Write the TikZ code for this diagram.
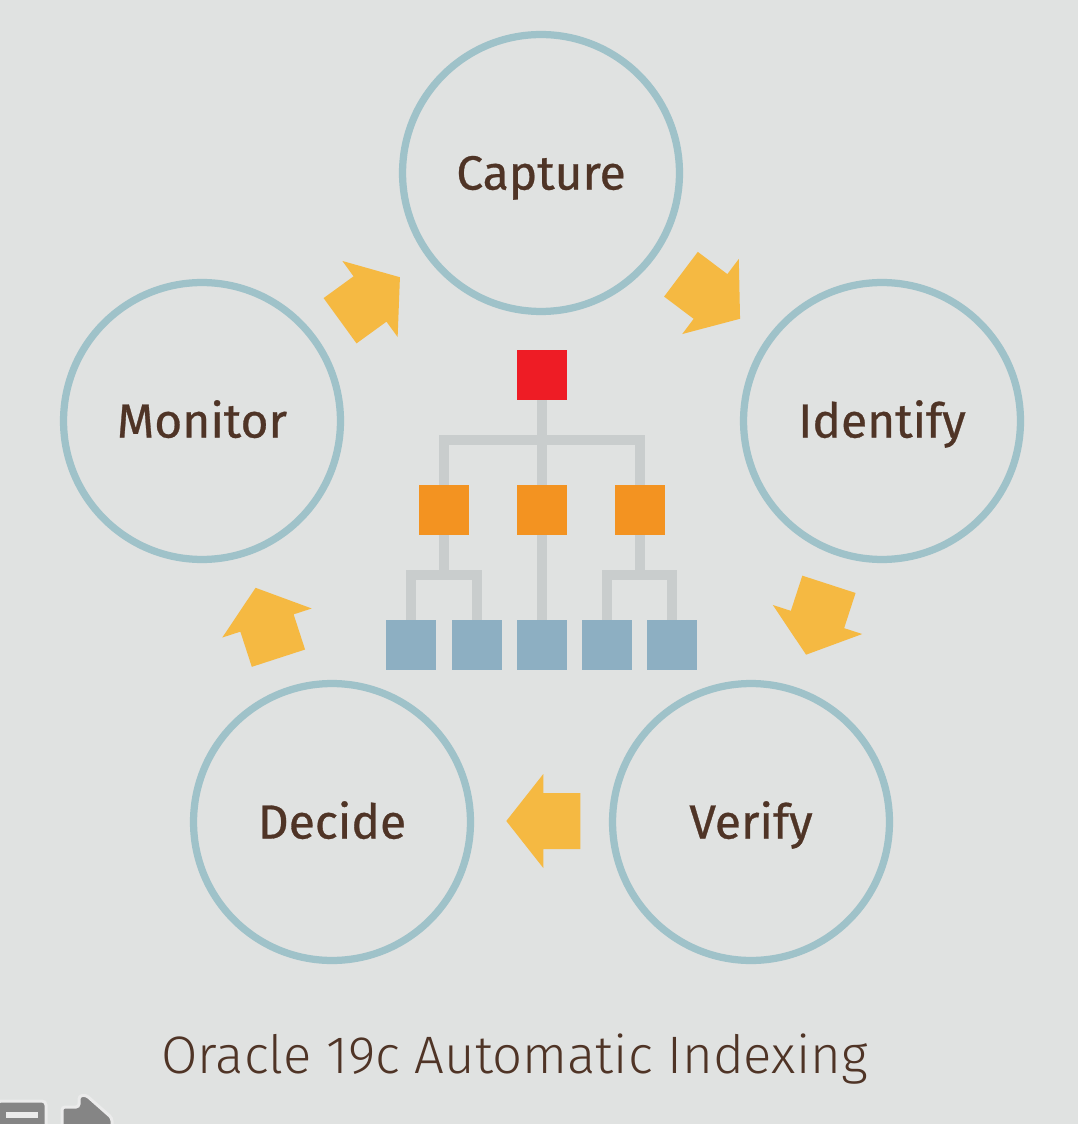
\documentclass[tikz,border=0pt]{standalone}
\usepackage{fontspec}
\setmainfont{Fira Sans}
\newfontfamily\thinfont{Fira Sans Light}
\newfontfamily\stagefont{Fira Sans}[FakeBold=0.6]
\usetikzlibrary{positioning}
\definecolor{canvas}{HTML}{E0E2E1}
\definecolor{ring}{HTML}{9FC2C9}
\definecolor{ink}{HTML}{4F3426}
\definecolor{flowc}{HTML}{F5B942}
\definecolor{rootc}{HTML}{EE1C25}
\definecolor{midc}{HTML}{F39321}
\definecolor{leafc}{HTML}{8DAFC2}
\definecolor{linkc}{HTML}{C9CDCD}
\definecolor{iconc}{HTML}{858585}
\tikzset{
	stage/.style={circle,draw=ring,line width=0.145cm,minimum size=5.54cm,inner sep=0pt,
		text=ink,font=\stagefont\fontsize{27.3}{32}\selectfont,text height=0.663cm,text depth=0pt},
	sq/.style={rectangle,minimum size=1cm,inner sep=0pt},
	link/.style={draw=linkc,line width=0.2cm,line join=miter},
	flow/.pic={\fill[flowc] (-37,-28) -- (0,-28) -- (0,-47) -- (37,0) -- (0,47) -- (0,28) -- (-37,28) -- cycle;}
}
\begin{document}
\begin{tikzpicture}[x=0.02cm,y=-0.02cm]
			\fill[canvas] (0,0) rectangle (1078,1124);
			\useasboundingbox (0,0) rectangle (1078,1124);

			\node[stage] (capture) at (541,173) {Capture};
			\node[stage] (identify) at (882,421) {Identify};
			\node[stage] (verify) at (751,822) {Verify};
			\node[stage] (decide) at (332,822) {Decide};
			\node[stage] (monitor) at (202,421) {Monitor};

			\pic[rotate=36] at (370,299) {flow};
			\pic[rotate=-37] at (710.5,296.5) {flow};
			\pic[rotate=-108] at (817.5,619.5) {flow};
			\pic[rotate=180] at (543.3,821) {flow};
			\pic[rotate=108] at (267,623) {flow};

			\coordinate (top) at (542,440);
			\coordinate (subl) at (444,575);
			\coordinate (subr) at (640,575);
			\coordinate (rootpos) at (542,375);
			\coordinate (m1pos) at (444,510);
			\coordinate (m2pos) at (542,510);
			\coordinate (m3pos) at (640,510);
			\coordinate (l1pos) at (411,645);
			\coordinate (l2pos) at (477,645);
			\coordinate (l3pos) at (542,645);
			\coordinate (l4pos) at (607,645);
			\coordinate (l5pos) at (672,645);

			\draw[link] (rootpos) -- (m2pos);
			\draw[link] (m1pos) |- (top) -| (m3pos);
			\draw[link] (m1pos) -- (subl);
			\draw[link] (l1pos) |- (subl) -| (l2pos);
			\draw[link] (m2pos) -- (l3pos);
			\draw[link] (m3pos) -- (subr);
			\draw[link] (l4pos) |- (subr) -| (l5pos);

			\node[sq,fill=rootc] (root) at (rootpos) {};
			\node[sq,fill=midc] (m1) at (m1pos) {};
			\node[sq,fill=midc] (m2) at (m2pos) {};
			\node[sq,fill=midc] (m3) at (m3pos) {};
			\node[sq,fill=leafc] (l1) at (l1pos) {};
			\node[sq,fill=leafc] (l2) at (l2pos) {};
			\node[sq,fill=leafc] (l3) at (l3pos) {};
			\node[sq,fill=leafc] (l4) at (l4pos) {};
			\node[sq,fill=leafc] (l5) at (l5pos) {};

			\node[anchor=base,text=ink,font=\thinfont\fontsize{30}{36}\selectfont] (title) at (514.5,1073) {Oracle 19c Automatic Indexing};

			\draw[fill=iconc,draw=white!92!black,line width=0.06cm,rounded corners=0.08cm] (-3,1101) rectangle (46,1132);
			\fill[white!92!black] (6,1112) rectangle (38,1118);
			\draw[fill=iconc,draw=white!92!black,line width=0.06cm,rounded corners=0.06cm] (62,1132) -- (62,1107) -- (79,1107) -- (79,1096) -- (86,1095) -- (112,1118) -- (112,1132) -- cycle;
		    \end{tikzpicture}
\end{document}
